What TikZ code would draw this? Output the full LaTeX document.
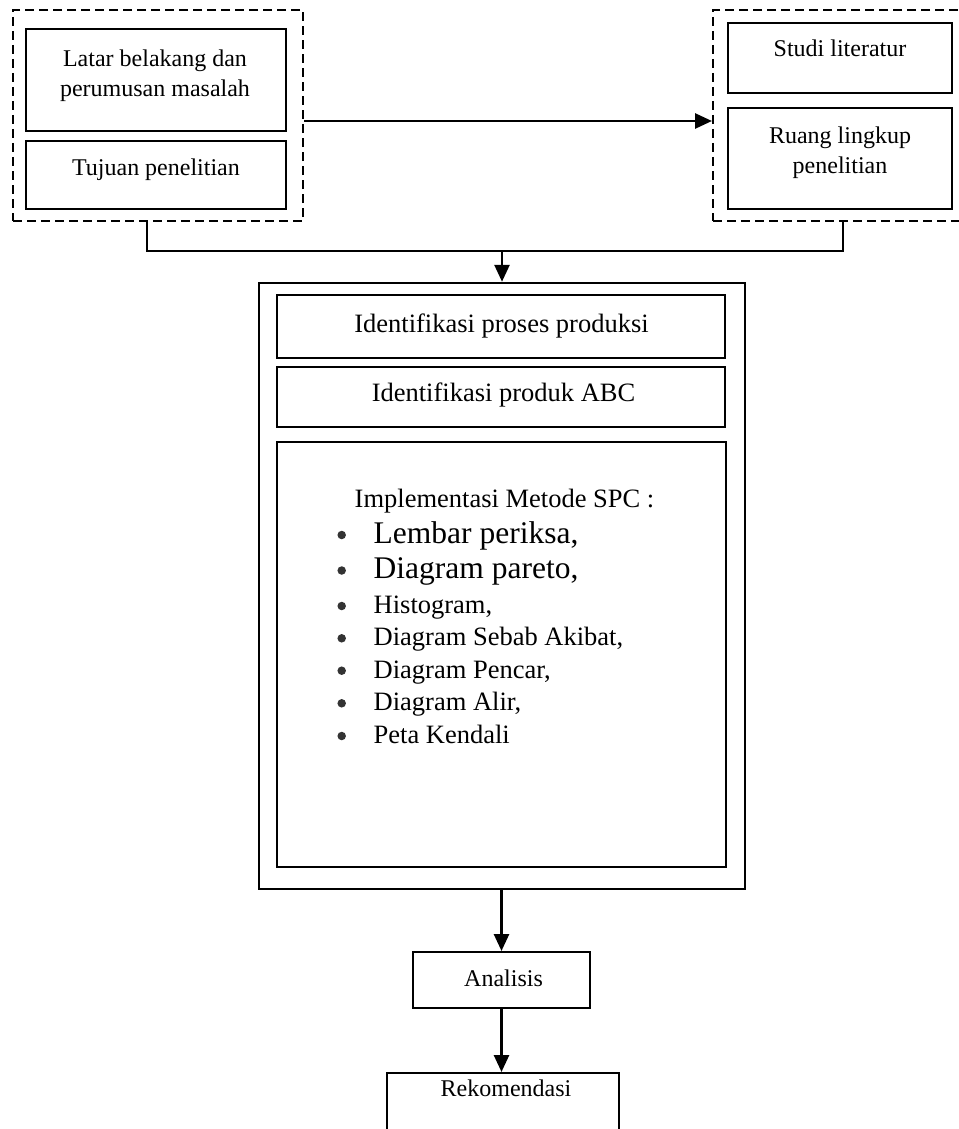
\documentclass[tikz,border=0pt]{standalone}
\usepackage{fontspec}
\setmainfont{Liberation Serif}
\usetikzlibrary{arrows.meta}
\begin{document}
\begin{tikzpicture}[x=1pt,y=-1pt,
  box/.style={draw=black, line width=2pt, inner sep=0pt, rectangle},
  grp/.style={draw=black, line width=2pt, dash pattern=on 9pt off 5pt, inner sep=0pt, rectangle},
  frame/.style={draw=black, line width=2.5pt, inner sep=0pt, rectangle},
  link/.style={draw=black, line width=2pt},
  arrow/.style={draw=black, line width=2.7pt, -{Triangle[length=17pt,width=15pt]}},
  tnormal/.style={font=\fontsize{24}{30}\selectfont, inner sep=0pt, align=center},
  tmid/.style={font=\fontsize{26.5}{32}\selectfont, inner sep=0pt},
  tbig/.style={font=\fontsize{31.5}{38}\selectfont, inner sep=0pt},
  dot/.style={circle, fill=black!80, inner sep=0pt, minimum size=8.5pt}
]
\useasboundingbox (0,0) rectangle (958,1129);

% --- top left group ---
\node[grp, minimum width=290pt, minimum height=211pt] (leftgrp) at (158,115.5) {};
\node[box, minimum width=260pt, minimum height=102pt] (latarbox) at (156,80) {};
\node[tnormal, anchor=north] (latartxt) at (155,49.5) {Latar belakang dan\\perumusan masalah};
\node[box, minimum width=260pt, minimum height=68pt] (tujuanbox) at (156,175) {};
\node[tnormal, anchor=base] (tujuantxt) at (156,175) {Tujuan penelitian};

% --- top right group ---
\node[grp, minimum width=262pt, minimum height=211pt] (rightgrp) at (844,115.5) {};
\node[box, minimum width=224pt, minimum height=70pt] (studibox) at (840,58) {};
\node[tnormal, anchor=base] (studitxt) at (840,57) {Studi literatur};
\node[box, minimum width=224pt, minimum height=101pt] (ruangbox) at (840,158.5) {};
\node[tnormal, anchor=north] (ruangtxt) at (840,126.5) {Ruang lingkup\\penelitian};

% --- central frame ---
\node[frame, minimum width=486pt, minimum height=606pt] (frame) at (502,586) {};
\node[box, minimum width=448pt, minimum height=63pt] (identbox) at (501,326.5) {};
\node[tmid, anchor=base] (identtxt) at (501.5,332) {Identifikasi proses produksi};
\node[box, minimum width=448pt, minimum height=60pt] (produkbox) at (501,397) {};
\node[tmid, anchor=base] (produktxt) at (503.5,401) {Identifikasi produk ABC};
\node[box, minimum width=449pt, minimum height=425pt] (spcbox) at (501.5,654.5) {};
\node[tmid, anchor=base west] (spctxt) at (354.5,507) {Implementasi Metode SPC :};

% method list
\node[tbig, anchor=base west] (item1) at (373.5,543.3) {Lembar periksa,};
\node[tbig, anchor=base west] (item2) at (373.5,578.3) {Diagram pareto,};
\node[tmid, anchor=base west] (item3) at (373.5,613.3) {Histogram,};
\node[tmid, anchor=base west] (item4) at (373.5,645.5) {Diagram Sebab Akibat,};
\node[tmid, anchor=base west] (item5) at (373.5,678.3) {Diagram Pencar,};
\node[tmid, anchor=base west] (item6) at (373.5,710.5) {Diagram Alir,};
\node[tmid, anchor=base west] (item7) at (373.5,743.3) {Peta Kendali};
\foreach \i/\yy in {1/535, 2/570.5, 3/606, 4/638.3, 5/670.7, 6/703.3, 7/736}
  \node[dot] (bullet\i) at (341.7,\yy) {};

% --- lower steps ---
\node[box, minimum width=177pt, minimum height=56pt] (anbox) at (501.5,980) {};
\node[tnormal, anchor=base] (antxt) at (503.5,986) {Analisis};
\node[box, minimum width=232pt, minimum height=77pt] (rekbox) at (503,1111.5) {};
\node[tnormal, anchor=base] (rektxt) at (506,1096) {Rekomendasi};

% --- connectors ---
\draw[arrow] ([yshift=-5.5pt]leftgrp.east) -- ([yshift=-5.5pt]rightgrp.west);
\coordinate (jl) at (147,251);
\coordinate (jr) at (843,251);
\coordinate (jm) at (502,251);
\draw[link] (leftgrp.south -| jl) -- (jl) -- (jr) -- (rightgrp.south -| jr);
\draw[arrow] (jm) -- (frame.north -| jm);
\draw[arrow] (frame.south -| anbox.north) -- (anbox.north);
\draw[arrow] (anbox.south) -- (rekbox.north -| anbox.south);
\end{tikzpicture}
\end{document}
